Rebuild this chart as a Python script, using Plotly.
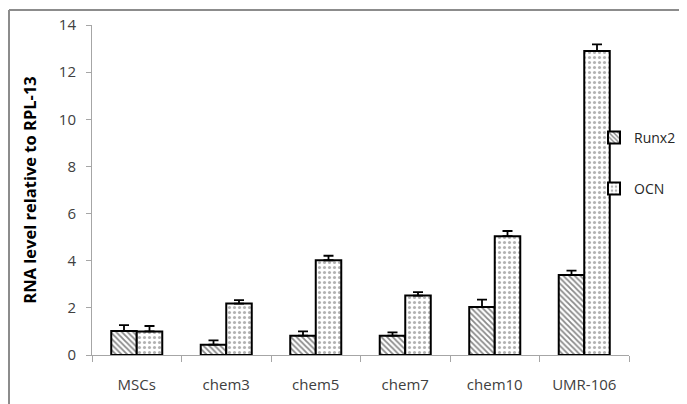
import plotly.graph_objects as go

categories = ["MSCs", "chem3", "chem5", "chem7", "chem10", "UMR-106"]
runx2 = [1.02, 0.44, 0.82, 0.82, 2.04, 3.39]
runx2_err = [0.25, 0.18, 0.18, 0.14, 0.31, 0.19]
ocn = [1.00, 2.18, 4.02, 2.52, 5.04, 12.9]
ocn_err = [0.23, 0.15, 0.19, 0.15, 0.22, 0.28]
yticks = [0, 2, 4, 6, 8, 10, 12, 14]

W, H = 687, 404
OFF = 8  # page body margin
L, R, T, B = 92 - OFF, 629 - OFF, 25 - OFF, 355 - OFF
pw, ph = R - L, B - T

def px(x):
    return (x - OFF - L) / pw

def py(y):
    return (B - (y - OFF)) / ph

font = "Open Sans"
fig = go.Figure()
fig.add_trace(go.Bar(
    x=categories, y=runx2, name="Runx2", legend="legend", showlegend=True,
    marker=dict(color="white", line=dict(color="black", width=2),
                pattern=dict(shape="\\", fgcolor="#111111", bgcolor="white", size=4, solidity=0.45)),
    error_y=dict(type="data", array=runx2_err, arrayminus=[0]*6, symmetric=False,
                 color="black", thickness=1.8, width=5),
))
fig.add_trace(go.Bar(
    x=categories, y=ocn, name="OCN", legend="legend2", showlegend=True,
    marker=dict(color="white", line=dict(color="black", width=2),
                pattern=dict(shape=".", fgcolor="#666666", bgcolor="white", size=5, solidity=0.3)),
    error_y=dict(type="data", array=ocn_err, arrayminus=[0]*6, symmetric=False,
                 color="black", thickness=1.8, width=5),
))

frame = dict(color="#8c8c8c", width=2)
fig.update_layout(
    width=W, height=H, showlegend=True,
    margin=dict(l=L, r=W - R, t=T, b=H - B, autoexpand=False),
    paper_bgcolor="white", plot_bgcolor="white",
    barmode="group", bargap=0.43, bargroupgap=0,
    font=dict(family=font, size=15, color="#404040"),
    legend=dict(x=px(594), y=py(138), xanchor="left", yanchor="middle",
                bgcolor="rgba(0,0,0,0)", font=dict(size=14, color="#262626"),
                itemwidth=30),
    legend2=dict(x=px(594), y=py(189), xanchor="left", yanchor="middle",
                 bgcolor="rgba(0,0,0,0)", font=dict(size=14, color="#262626"),
                 itemwidth=30),
    xaxis=dict(showline=True, linecolor="#a6a6a6", linewidth=1,
               ticks="outside", tickson="boundaries", ticklen=6, tickcolor="#a6a6a6",
               ticklabelstandoff=16,
               showgrid=False, tickfont=dict(size=15, color="#404040")),
    yaxis=dict(range=[0, 14], tickvals=yticks, showline=True, linecolor="#a6a6a6",
               linewidth=1, ticks="outside", ticklen=5, tickcolor="#a6a6a6",
               ticklabelstandoff=7,
               showgrid=False, zeroline=False, tickfont=dict(size=15, color="#404040"),
               title=dict(text="<b>RNA level relative to RPL-13</b>",
                          font=dict(size=16.5, color="#000000"), standoff=18)),
    shapes=[
        dict(type="line", xref="paper", yref="paper", x0=px(9), x1=px(700),
             y0=py(10), y1=py(10), line=frame, layer="above"),
        dict(type="line", xref="paper", yref="paper", x0=px(9), x1=px(9),
             y0=py(10), y1=py(420), line=frame, layer="above"),
    ],
)

fig.write_html("out.html")
